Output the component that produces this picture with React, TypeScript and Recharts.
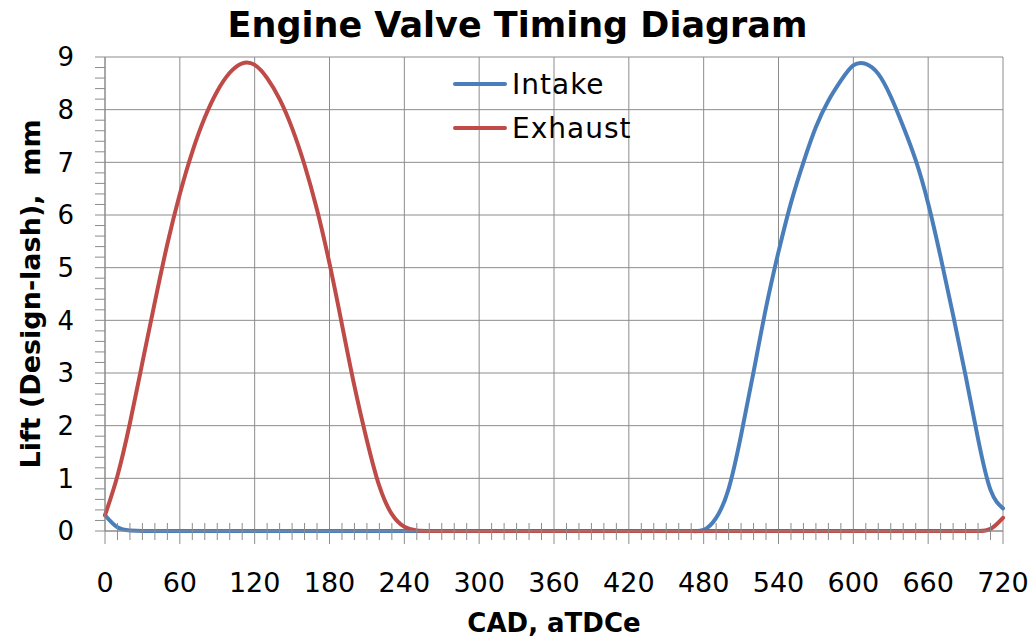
import React from 'react';
import { LineChart, Line, XAxis, YAxis, CartesianGrid, Legend } from 'recharts';

// crank angle, degrees after TDC (exhaust)
const cad = [
  0, 10, 20, 30, 40, 50, 60, 70, 80, 90, 100, 110, 120, 130, 140, 150, 160, 170,
  180, 190, 200, 210, 220, 230, 240, 250, 260, 270, 280, 290, 300, 310, 320, 330,
  340, 350, 360, 370, 380, 390, 400, 410, 420, 430, 440, 450, 460, 470, 480, 490,
  500, 510, 520, 530, 540, 550, 560, 570, 580, 590, 600, 610, 620, 630, 640, 650,
  660, 670, 680, 690, 700, 710, 720,
];

const intake = [
  0.3, 0.07, 0.01, 0, 0, 0, 0, 0, 0, 0, 0, 0, 0, 0, 0, 0, 0, 0,
  0, 0, 0, 0, 0, 0, 0, 0, 0, 0, 0, 0, 0, 0, 0, 0,
  0, 0, 0, 0, 0, 0, 0, 0, 0, 0, 0, 0, 0, 0, 0.02, 0.25,
  0.8, 1.82, 3.02, 4.24, 5.3, 6.23, 7.0, 7.67, 8.17, 8.55, 8.84, 8.87, 8.68, 8.25, 7.68, 7.04,
  6.22, 5.2, 4.1, 2.95, 1.75, 0.78, 0.43,
];

const exhaust = [
  0.3, 1.05, 2.05, 3.2, 4.35, 5.45, 6.4, 7.2, 7.85, 8.35, 8.7, 8.88, 8.85, 8.6, 8.2, 7.65, 6.95, 6.1,
  5.08, 3.92, 2.75, 1.72, 0.85, 0.32, 0.08, 0.01, 0, 0, 0, 0, 0, 0, 0, 0,
  0, 0, 0, 0, 0, 0, 0, 0, 0, 0, 0, 0, 0, 0, 0, 0,
  0, 0, 0, 0, 0, 0, 0, 0, 0, 0, 0, 0, 0, 0, 0, 0,
  0, 0, 0, 0, 0, 0.04, 0.25,
];

const xMajor = [0, 60, 120, 180, 240, 300, 360, 420, 480, 540, 600, 660, 720];
const yMajor = [0, 1, 2, 3, 4, 5, 6, 7, 8, 9];
const xMinor = cad; // small ticks every 10 deg
const yMinor = Array.from({ length: 46 }, (_, i) => i / 5);
const legendOrder = ['Intake', 'Exhaust'];

const data = cad.map((c, i) => ({ cad: c, intake: intake[i], exhaust: exhaust[i] }));

const GRID = '#8c8c8c';
const FONT = '"DejaVu Sans", sans-serif';

const XTick = (props: any) => {
  const { x, y, payload } = props;
  const v = payload.value;
  if (v % 60 === 0) {
    return (
      <g>
        <line x1={x} x2={x} y1={y} y2={y + 13} stroke={GRID} strokeWidth={1} />
        <text x={x} y={y + 41} dy="0.73em" textAnchor="middle" fontFamily={FONT} fontSize={27} fill="#000">
          {v}
        </text>
      </g>
    );
  }
  return <line x1={x} x2={x} y1={y - 8} y2={y + 9} stroke={GRID} strokeWidth={1} />;
};

const YTick = (props: any) => {
  const { x, y, payload } = props;
  const v = payload.value;
  const isMajor = Math.abs(v - Math.round(v)) < 1e-6;
  return (
    <g>
      <line x1={x - 10} x2={x} y1={y} y2={y} stroke={GRID} strokeWidth={1} />
      {isMajor && (
        <text x={x - 31} y={y} dy="0.36em" textAnchor="end" fontFamily={FONT} fontSize={26} fill="#000">
          {Math.round(v)}
        </text>
      )}
    </g>
  );
};

const LegendBox = (props: any) => {
  const items = [...(props.payload || [])].sort(
    (a: any, b: any) => legendOrder.indexOf(a.value) - legendOrder.indexOf(b.value)
  );
  return (
    <div>
      {items.map((p: any) => (
        <div key={p.value} style={{ display: 'flex', alignItems: 'center', height: 44 }}>
          <div style={{ width: 54, height: 4, borderRadius: 2, background: p.color, marginRight: 5 }} />
          <span style={{ fontFamily: FONT, fontSize: 28, letterSpacing: 1, color: '#000' }}>{p.value}</span>
        </div>
      ))}
    </div>
  );
};

export default function App() {
  return (
    <div style={{ position: 'relative', width: 1035, height: 640, background: '#fff' }}>
      <style>{'body{margin:0}'}</style>
      <div
        style={{
          position: 'absolute',
          top: 8,
          left: 0,
          width: 1035,
          textAlign: 'center',
          fontFamily: FONT,
          fontWeight: 'bold',
          fontSize: 35,
          lineHeight: '35px',
          zIndex: 2,
        }}
      >
        Engine Valve Timing Diagram
      </div>
      <LineChart width={1035} height={640} data={data} margin={{ top: 57, right: 32, bottom: 0, left: 0 }}>
        <CartesianGrid
          stroke={GRID}
          strokeWidth={1}
          horizontalValues={yMajor}
          verticalValues={xMajor}
        />
        <XAxis
          dataKey="cad"
          type="number"
          domain={[0, 720]}
          ticks={xMinor}
          interval={0}
          height={109}
          tickSize={0}
          tickMargin={0}
          tickLine={false}
          axisLine={{ stroke: GRID }}
          tick={<XTick />}
          label={{
            value: 'CAD, aTDCe',
            position: 'insideBottom',
            offset: 8,
            style: { fontFamily: FONT, fontWeight: 'bold', fontSize: 26, fill: '#000' },
          }}
        />
        <YAxis
          type="number"
          domain={[0, 9]}
          ticks={yMinor}
          interval={0}
          width={105}
          tickSize={0}
          tickMargin={0}
          tickLine={false}
          axisLine={{ stroke: GRID }}
          tick={<YTick />}
          label={{
            value: 'Lift (Design-lash),\u00A0 mm',
            angle: -90,
            position: 'insideLeft',
            offset: 30,
            style: { fontFamily: FONT, fontWeight: 'bold', fontSize: 27, fill: '#000', textAnchor: 'middle' },
          }}
        />
        <Legend
          layout="horizontal"
          verticalAlign="middle"
          align="center"
          content={<LegendBox />}
          wrapperStyle={{ top: 62, left: 453, width: 200 }}
        />
        <Line
          name="Intake"
          dataKey="intake"
          type="natural"
          stroke="#4A7EBB"
          strokeWidth={4}
          strokeLinecap="round"
          dot={false}
          activeDot={false}
          isAnimationActive={false}
        />
        <Line
          name="Exhaust"
          dataKey="exhaust"
          type="natural"
          stroke="#BE4B48"
          strokeWidth={4}
          strokeLinecap="round"
          dot={false}
          activeDot={false}
          isAnimationActive={false}
        />
      </LineChart>
    </div>
  );
}
